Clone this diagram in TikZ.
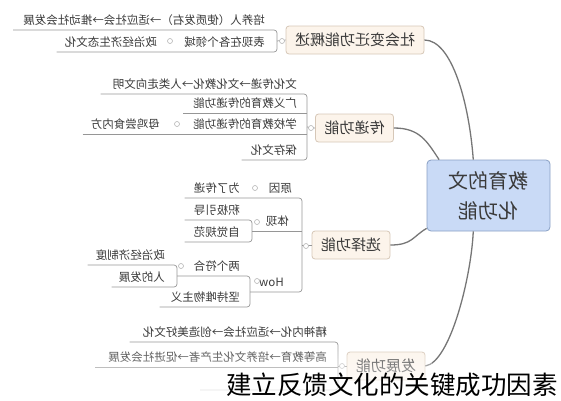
\documentclass[tikz,border=0pt]{standalone}
\usepackage{graphicx}
\usepackage{fontspec}
\newfontfamily\cjk{Noto Sans CJK SC}
\usetikzlibrary{calc,fadings}
\definecolor{hubfill}{RGB}{201,218,246}
\definecolor{hubline}{RGB}{138,160,196}
\definecolor{topicfill}{RGB}{252,244,235}
\definecolor{topicline}{RGB}{214,199,183}
\definecolor{ink}{RGB}{58,58,58}
\definecolor{rulegray}{RGB}{150,150,150}
\definecolor{trunkgray}{RGB}{118,118,118}
\newcommand{\mirr}[1]{\reflectbox{#1}}

\begin{document}
\begin{tikzpicture}[x=1pt,y=-1pt,
 hub/.style={rounded corners=4pt,draw=hubline,fill=hubfill,line width=.8pt,minimum width=123pt,minimum height=71pt,align=center,font=\cjk\fontsize{20}{30}\selectfont,text=ink},
 topic/.style={rounded corners=3pt,draw=topicline,fill=topicfill,line width=.8pt,minimum height=28pt,inner xsep=9pt,font=\cjk\fontsize{15}{18}\selectfont,text=ink},
 leaf/.style={anchor=south east,inner xsep=0pt,inner ysep=3pt,text height=9pt,text depth=2.5pt,font=\cjk\fontsize{11.5}{13}\selectfont,text=ink},
 ln/.style={draw=rulegray,line width=.7pt,rounded corners=3pt},
 trunk/.style={draw=trunkgray,line width=1.3pt},
 knob/.style={circle,draw=rulegray!70,fill=white,line width=.6pt,inner sep=0pt,minimum size=5pt}]
\useasboundingbox (0,0) rectangle (561,400);

\node[hub] (hub) at (488.5,195.5) {\mirr{教育的文}\\\mirr{化功能}};
\node[topic] (t1) at (355,40) {\mirr{社会变迁功能概述}};
\node[topic] (t2) at (354.5,128) {\mirr{传递功能}};
\node[topic] (t3) at (351,245) {\mirr{选择功能}};
\node[topic] (t4) at (386,366) {\mirr{发展功能}};
\draw[trunk] (t1.east) .. controls +(28,0) and +(-4,-55) .. (hub.113);
\draw[trunk] (t2.east) .. controls +(26,0) and +(-12,-18) .. (hub.144);
\draw[trunk] (t3.east) .. controls +(22,0) and +(-14,8) .. (hub.208);
\draw[trunk] (t4.east) .. controls +(25,-4) and +(-2,45) .. (hub.247);

\coordinate (b1) at (277,41);
\node[leaf] (s1a) at (265,30) {\mirr{培养人（使质发右）→适应社会→推动社会发展}};
\node[leaf] (s1b) at (265,52) {\mirr{表现在各个领域}};
\node[leaf] (s1c) at (157,52) {\mirr{政治经济生态文化}};
\draw[ln] ([xshift=-10pt]s1a.south west) -- (s1a.south west -| b1) -- (s1b.south west -| b1) -- ([xshift=-8pt]s1c.south west);
\draw[ln] (b1) -- (t1.west);

\coordinate (b2) at (307,127);
\node[leaf] (s2a) at (297,94) {\mirr{文化传递→文化教化→人类走向文明}};
\node[leaf] (s2b) at (297,113) {\mirr{广义教育的传递功能}};
\node[leaf] (s2c) at (297,134) {\mirr{学校教育的传递功能}};
\node[leaf] (s2d) at (160,134) {\mirr{母鸡尝食内方}};
\node[leaf] (s2e) at (297,160) {\mirr{保存文化}};
\draw[ln] ([xshift=-12pt]s2a.south west) -- (s2a.south west -| b2) -- (s2e.south west -| b2) -- ([xshift=-9pt]s2e.south west);
\draw[ln] ([xshift=-10pt]s2b.south west) -- (s2b.south west -| b2);
\draw[ln] ([xshift=-8pt]s2d.south west) -- (s2c.south west -| b2);
\draw[ln] (b2) -- (t2.west);

\coordinate (b3) at (302,245);
\coordinate (c3) at (252,231);
\coordinate (c4) at (250,292);
\coordinate (c5) at (177,276);
\node[leaf] (s3a) at (292,198) {\mirr{原因}};
\node[leaf] (s3b) at (240,198) {\mirr{为了传递}};
\node[leaf] (s3c) at (289,231) {\mirr{体现}};
\node[leaf] (s3d) at (240,220) {\mirr{积极引导}};
\node[leaf] (s3e) at (240,242) {\mirr{自觉规范}};
\node[leaf] (s3f) at (284,292) {\mirr{How}};
\node[leaf] (s3g) at (240,276) {\mirr{两个符合}};
\node[leaf] (s3h) at (240,307) {\mirr{坚持唯物主义}};
\node[leaf] (s3i) at (165,265) {\mirr{政治经济制度}};
\node[leaf] (s3j) at (165,287) {\mirr{人的发展}};
\draw[ln] ([xshift=-9pt]s3b.south west) -- (s3a.south west -| b3) -- (s3f.south west -| b3) -- (c4);
\draw[ln] (c3) -- (s3c.south west -| b3);
\draw[ln] ([xshift=-9pt]s3d.south west) -- (s3d.south west -| c3) -- (s3e.south west -| c3) -- ([xshift=-9pt]s3e.south west);
\draw[ln] (c5) -- (s3g.south west -| c4) -- (s3h.south west -| c4) -- ([xshift=-11pt]s3h.south west);
\draw[ln] ([xshift=-8pt]s3i.south west) -- (s3i.south west -| c5) -- (s3j.south west -| c5) -- ([xshift=-7pt]s3j.south west);
\draw[ln] (b3) -- (t3.west);

\coordinate (b4) at (338,366);
\coordinate (u4) at (200,390);
\node[leaf] (s4a) at (327,342) {\mirr{精神内化→适应社会→创造美好文化}};
\node[leaf] (s4b) at (327,367) {\mirr{高等教育→培养文化生产者→促进社会发展}};
\draw[ln] ([xshift=-13pt]s4a.south west) -- (s4a.south west -| b4) -- (u4 -| b4) -- (u4);
\draw[ln] ([xshift=-13pt]s4b.south west) -- (s4b.south west -| b4);
\draw[ln] (b4) -- (t4.west);

\node[knob] (k1) at (282,41) {};
\node[knob] (k1b) at (170,41) {};
\node[knob] (k2) at (311,128) {};
\node[knob] (k2c) at (177,124) {};
\node[knob] (k3) at (306,246) {};
\node[knob] (k3a) at (255,188) {};
\node[knob] (k3c) at (257,222) {};
\node[knob] (k3f) at (257,281) {};
\node[knob] (k3g) at (181,266) {};
\node[knob] (k4) at (342,366) {};

\fill[white,path fading=north,opacity=.9] (0,342) rectangle (432,400);
\node[font=\cjk\fontsize{25.5}{28}\selectfont,text=black,anchor=base east,inner sep=0pt] (cap) at (558,394) {建立反馈文化的关键成功因素};
\end{tikzpicture}
\end{document}
